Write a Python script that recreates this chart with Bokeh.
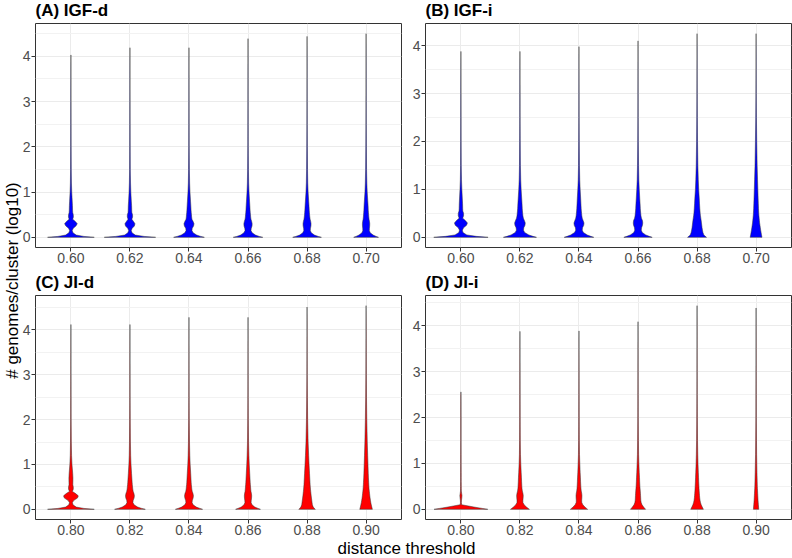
import math
from bokeh.plotting import figure
from bokeh.layouts import row, column
from bokeh.models import Range1d, FixedTicker
from bokeh.core.properties import value
from bokeh.embed import file_html
from bokeh.resources import INLINE

# ---------------- data ----------------
Y_KNOTS = [0, 0.02, 0.05, 0.1, 0.15, 0.2, 0.25, 0.3, 0.35, 0.4, 0.45, 0.5,
           0.55, 0.6, 0.7, 0.8, 1.0, 1.2, 1.5, 2.0, 2.5, 3.0]

cats_top = ["0.60", "0.62", "0.64", "0.66", "0.68", "0.70"]
cats_bottom = ["0.80", "0.82", "0.84", "0.86", "0.88", "0.90"]

max_A = [4.03, 4.19, 4.19, 4.39, 4.44, 4.50]
max_B = [3.88, 3.88, 3.98, 4.10, 4.25, 4.25]
max_C = [4.12, 4.12, 4.28, 4.28, 4.51, 4.54]
max_D = [2.56, 3.88, 3.89, 4.09, 4.44, 4.39]

# half-widths of each violin at Y_KNOTS (category units)
hw_A = [
    [0.395, 0.22, 0.09, 0.035, 0.022, 0.04, 0.085, 0.107, 0.075, 0.03, 0.042, 0.04, 0.03, 0.028, 0.026, 0.022, 0.014, 0.009, 0.006, 0.004, 0.003, 0.002],
    [0.435, 0.24, 0.09, 0.035, 0.022, 0.038, 0.075, 0.085, 0.06, 0.032, 0.045, 0.044, 0.032, 0.03, 0.028, 0.023, 0.015, 0.01, 0.006, 0.004, 0.003, 0.002],
    [0.26, 0.2, 0.13, 0.07, 0.05, 0.055, 0.078, 0.085, 0.07, 0.05, 0.045, 0.042, 0.038, 0.035, 0.031, 0.026, 0.017, 0.011, 0.007, 0.004, 0.003, 0.002],
    [0.25, 0.19, 0.125, 0.07, 0.05, 0.055, 0.068, 0.07, 0.062, 0.05, 0.045, 0.042, 0.038, 0.035, 0.031, 0.026, 0.017, 0.011, 0.007, 0.004, 0.003, 0.002],
    [0.243, 0.19, 0.125, 0.072, 0.055, 0.058, 0.066, 0.068, 0.062, 0.052, 0.047, 0.043, 0.04, 0.037, 0.033, 0.028, 0.018, 0.012, 0.008, 0.005, 0.003, 0.002],
    [0.21, 0.17, 0.12, 0.07, 0.055, 0.057, 0.061, 0.062, 0.058, 0.05, 0.046, 0.043, 0.04, 0.037, 0.034, 0.029, 0.019, 0.013, 0.008, 0.005, 0.003, 0.002],
]
hw_B = [
    [0.46, 0.26, 0.1, 0.035, 0.025, 0.045, 0.095, 0.11, 0.075, 0.03, 0.045, 0.045, 0.032, 0.03, 0.028, 0.024, 0.016, 0.01, 0.006, 0.004, 0.003, 0.002],
    [0.28, 0.22, 0.15, 0.08, 0.06, 0.065, 0.085, 0.09, 0.075, 0.058, 0.05, 0.046, 0.042, 0.039, 0.035, 0.03, 0.02, 0.013, 0.008, 0.005, 0.003, 0.002],
    [0.25, 0.2, 0.14, 0.075, 0.055, 0.06, 0.08, 0.085, 0.07, 0.055, 0.048, 0.044, 0.04, 0.037, 0.033, 0.029, 0.02, 0.013, 0.008, 0.005, 0.003, 0.002],
    [0.24, 0.19, 0.13, 0.072, 0.055, 0.06, 0.075, 0.08, 0.075, 0.058, 0.05, 0.046, 0.042, 0.039, 0.035, 0.03, 0.021, 0.014, 0.009, 0.005, 0.003, 0.002],
    [0.16, 0.14, 0.115, 0.1, 0.092, 0.085, 0.08, 0.075, 0.07, 0.064, 0.058, 0.053, 0.05, 0.047, 0.042, 0.038, 0.028, 0.021, 0.014, 0.008, 0.005, 0.003],
    [0.1, 0.097, 0.092, 0.085, 0.078, 0.072, 0.066, 0.06, 0.056, 0.052, 0.048, 0.045, 0.043, 0.041, 0.038, 0.035, 0.03, 0.025, 0.018, 0.011, 0.006, 0.003],
]
hw_C = [
    [0.395, 0.22, 0.09, 0.035, 0.025, 0.05, 0.11, 0.125, 0.08, 0.025, 0.04, 0.04, 0.032, 0.033, 0.034, 0.03, 0.018, 0.011, 0.007, 0.004, 0.003, 0.002],
    [0.26, 0.2, 0.13, 0.07, 0.05, 0.055, 0.07, 0.075, 0.068, 0.055, 0.048, 0.044, 0.04, 0.037, 0.032, 0.027, 0.018, 0.012, 0.008, 0.005, 0.003, 0.002],
    [0.23, 0.185, 0.125, 0.07, 0.052, 0.057, 0.07, 0.075, 0.068, 0.055, 0.048, 0.044, 0.04, 0.037, 0.033, 0.029, 0.02, 0.014, 0.009, 0.005, 0.003, 0.002],
    [0.21, 0.17, 0.115, 0.068, 0.052, 0.055, 0.06, 0.062, 0.058, 0.05, 0.046, 0.043, 0.04, 0.037, 0.033, 0.029, 0.021, 0.015, 0.009, 0.005, 0.003, 0.002],
    [0.14, 0.125, 0.105, 0.09, 0.085, 0.08, 0.075, 0.07, 0.066, 0.062, 0.058, 0.055, 0.052, 0.05, 0.046, 0.042, 0.034, 0.027, 0.018, 0.01, 0.006, 0.003],
    [0.107, 0.103, 0.097, 0.088, 0.08, 0.074, 0.068, 0.063, 0.059, 0.055, 0.051, 0.048, 0.046, 0.044, 0.04, 0.037, 0.032, 0.027, 0.02, 0.012, 0.007, 0.004],
]
hw_D = [
    [0.455, 0.36, 0.22, 0.012, 0.008, 0.01, 0.015, 0.018, 0.012, 0.007, 0.007, 0.006, 0.006, 0.005, 0.005, 0.005, 0.004, 0.004, 0.003, 0.003, 0.002, 0.002],
    [0.16, 0.14, 0.11, 0.07, 0.05, 0.05, 0.054, 0.056, 0.05, 0.04, 0.035, 0.032, 0.03, 0.028, 0.025, 0.021, 0.014, 0.009, 0.006, 0.004, 0.003, 0.002],
    [0.146, 0.128, 0.1, 0.065, 0.047, 0.046, 0.049, 0.05, 0.046, 0.038, 0.034, 0.031, 0.029, 0.027, 0.024, 0.02, 0.014, 0.009, 0.006, 0.004, 0.003, 0.002],
    [0.127, 0.115, 0.095, 0.068, 0.053, 0.047, 0.045, 0.043, 0.041, 0.038, 0.035, 0.032, 0.03, 0.028, 0.025, 0.021, 0.015, 0.01, 0.007, 0.004, 0.003, 0.002],
    [0.107, 0.1, 0.088, 0.07, 0.058, 0.05, 0.045, 0.042, 0.039, 0.036, 0.034, 0.032, 0.03, 0.028, 0.025, 0.022, 0.016, 0.012, 0.008, 0.005, 0.003, 0.002],
    [0.045, 0.044, 0.042, 0.039, 0.036, 0.033, 0.031, 0.029, 0.027, 0.025, 0.023, 0.021, 0.02, 0.019, 0.017, 0.015, 0.012, 0.009, 0.007, 0.004, 0.003, 0.002],
]

titles = ["(A) IGF-d", "(B) IGF-i", "(C) JI-d", "(D) JI-i"]
y_ticks = [0, 1, 2, 3, 4]
y_minor = [0.5, 1.5, 2.5, 3.5, 4.5]
x_title = "distance threshold"
y_title = "# genomes/cluster (log10)"

FONT = "Liberation Sans"
BLUE = "#0000FF"
RED = "#FF0000"


def panel(cats, maxes, widths, color, w, h, mbl, mbr, mbt, mbb):
    top = max(maxes)
    p = figure(width=w, height=h, x_range=Range1d(0.4, 6.6),
               y_range=Range1d(-0.05 * top, 1.05 * top), title=None,
               output_backend="svg", toolbar_location=None,
               min_border_left=mbl, min_border_right=mbr,
               min_border_top=mbt, min_border_bottom=mbb)
    xs, ys = [], []
    for i, (m, hw) in enumerate(zip(maxes, widths)):
        c = i + 1
        pts = [(yk, wk) for yk, wk in zip(Y_KNOTS, hw) if yk < m] + [(m, 0.0)]
        xs.append([c - wk for _, wk in pts] + [c + wk for _, wk in reversed(pts)])
        ys.append([yk for yk, _ in pts] + [yk for yk, _ in reversed(pts)])
    p.patches(xs, ys, fill_color=color, line_color="#333333", line_width=0.5)

    p.xaxis.ticker = FixedTicker(ticks=list(range(1, len(cats) + 1)))
    p.xaxis.major_label_overrides = {i + 1: c for i, c in enumerate(cats)}
    p.yaxis.ticker = FixedTicker(ticks=y_ticks, minor_ticks=y_minor)
    for ax in (p.xaxis, p.yaxis):
        ax.axis_line_color = None
        ax.major_tick_line_color = "#333333"
        ax.major_tick_out = 4
        ax.major_tick_in = 0
        ax.minor_tick_line_color = None
        ax.major_label_text_color = "#4D4D4D"
        ax.major_label_text_font = FONT
        ax.major_label_text_font_size = "14px"
        ax.major_label_standoff = 1
    p.xgrid.grid_line_color = "#EBEBEB"
    p.ygrid.grid_line_color = "#EBEBEB"
    p.ygrid.minor_grid_line_color = "#F2F2F2"
    p.xgrid.level = "underlay"
    p.ygrid.level = "underlay"
    p.outline_line_color = "#333333"
    p.outline_line_width = 1
    p.background_fill_color = "white"
    p.border_fill_color = "white"
    return p


def blank_fig(w, h, **kw):
    f = figure(width=w, height=h, x_range=Range1d(0, w), y_range=Range1d(0, h),
               output_backend="svg", toolbar_location=None, title=None,
               x_axis_type=None, y_axis_type=None,
               min_border=0, min_border_left=0, min_border_right=0,
               min_border_top=0, min_border_bottom=0, **kw)
    f.grid.visible = False
    f.outline_line_color = None
    return f


def title_fig(w, h, xs, txts):
    f = blank_fig(w, h)
    f.text(x=xs, y=[h - 10.0] * len(xs), text=txts, text_align="left",
           text_baseline="middle", text_font=value(FONT),
           text_font_size=value("17px"), text_font_style="bold",
           text_color="black")
    return f


# y title (transparent, slightly overlapping the left panels' empty border)
ytf = blank_fig(24, 537, styles={"margin-right": "-6px", "z-index": "1",
                                 "position": "relative"})
ytf.background_fill_alpha = 0
ytf.border_fill_alpha = 0
ytf.text(x=[12], y=[537 - 280], text=[y_title], angle=math.pi / 2,
         text_align="center", text_baseline="middle", text_font=value(FONT),
         text_font_size=value("17px"), text_color="black")

xtf = blank_fig(792, 20)
xtf.text(x=[406], y=[9.5], text=[x_title], text_align="center",
         text_baseline="middle", text_font=value(FONT),
         text_font_size=value("17px"), text_color="black")

tAB = title_fig(774, 22, [17, 407], [titles[0], titles[1]])
tCD = title_fig(774, 22, [17, 407], [titles[2], titles[3]])

pA = panel(cats_top, max_A, hw_A, BLUE, 389, 250, 17, 6, 1, 25)
pB = panel(cats_top, max_B, hw_B, BLUE, 385, 250, 18, 1, 1, 25)
pC = panel(cats_bottom, max_C, hw_C, RED, 389, 243, 17, 6, 1, 17)
pD = panel(cats_bottom, max_D, hw_D, RED, 385, 243, 18, 1, 1, 17)

right = column(tAB, row(pA, pB), tCD, row(pC, pD))
layout = column(row(ytf, right), xtf)

open("out.html", "w").write(file_html(layout, INLINE))
